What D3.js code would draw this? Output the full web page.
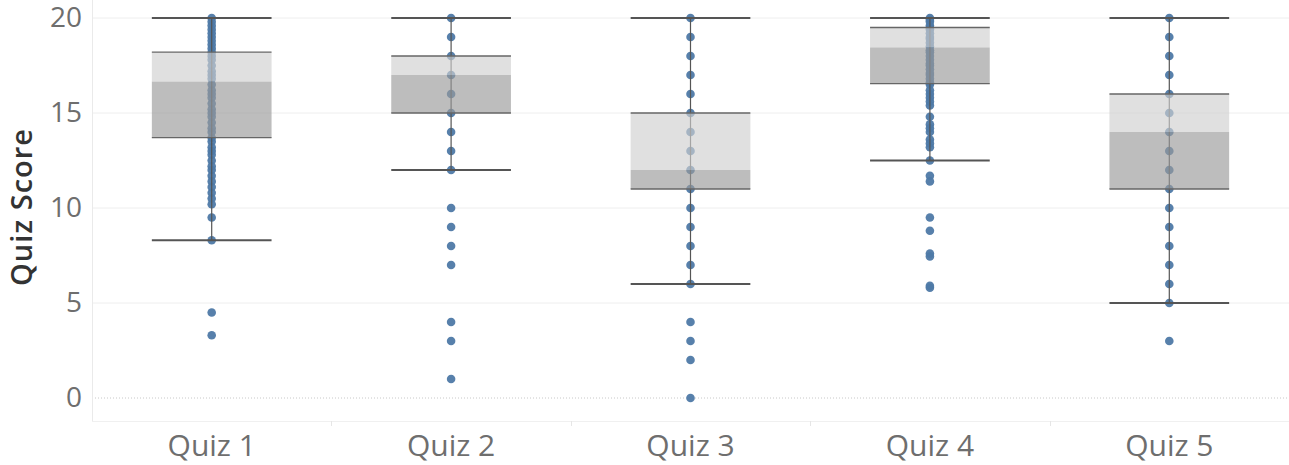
<!DOCTYPE html>
<html>
<head>
<meta charset="utf-8">
<script src="https://cdn.jsdelivr.net/npm/d3@7/dist/d3.min.js"></script>
<style>
  html, body { margin: 0; padding: 0; background: #fff; }
  svg { display: block; }
</style>
</head>
<body>
<svg id="chart" width="1289" height="465"></svg>
<script>
// Quiz categories and box-plot statistics
const quizzes = ["Quiz 1", "Quiz 2", "Quiz 3", "Quiz 4", "Quiz 5"];
const whiskerLow  = [8.3, 12, 6, 12.5, 5];
const lowerQuart  = [13.7, 15, 11, 16.55, 11];
const medians     = [16.65, 17, 12, 18.45, 14];
const upperQuart  = [18.2, 18, 15, 19.5, 16];
const whiskerHigh = [20, 20, 20, 20, 20];

// Individual student scores per quiz
const scoresQuiz1 = [20, 19.8, 19.6, 19.4, 19.2, 19, 18.8, 18.6, 18.4, 18.2, 18, 17.8, 17.5, 17.2, 17, 16.8,
  16.5, 16.2, 16, 15.8, 15.5, 15.2, 15, 14.8, 14.5, 14.2, 14, 13.7, 13.5, 13.2, 13, 12.8, 12.5, 12.2, 12,
  11.7, 11.4, 11.1, 10.8, 10.5, 10.2, 9.5, 8.3, 4.5, 3.3];
const scoresQuiz2 = [20, 19, 18, 17, 16, 15, 14, 13, 12, 10, 9, 8, 7, 4, 3, 1];
const scoresQuiz3 = [20, 19, 18, 17, 16, 15, 14, 13, 12, 11, 10, 9, 8, 7, 6, 4, 3, 2, 0];
const scoresQuiz4 = [20, 19.9, 19.8, 19.6, 19.5, 19.4, 19.2, 19, 18.9, 18.7, 18.5, 18.3, 18.2, 18, 17.8,
  17.6, 17.5, 17.3, 17.1, 17, 16.8, 16.6, 16.5, 16.2, 16, 15.8, 15.6, 15.4, 14.8, 14.4, 14.2, 14, 13.6,
  13.4, 13.2, 12.5, 11.7, 11.4, 9.5, 8.8, 7.6, 7.45, 5.9, 5.8];
const scoresQuiz5 = [20, 19, 18, 17, 16, 15, 14, 13, 12, 11, 10, 9, 8, 7, 6, 5, 3];
const scores = [scoresQuiz1, scoresQuiz2, scoresQuiz3, scoresQuiz4, scoresQuiz5];
const yTicks = [0, 5, 10, 15, 20];

const svg = d3.select("#chart");
const plotLeft = 92, plotRight = 1289, plotTop = 0, plotBottom = 421;

const x = d3.scaleBand().domain(quizzes).range([plotLeft, plotRight]);
const y = d3.scaleLinear().domain([0, 20]).range([398, 18]);

const font = "'Open Sans', 'Noto Sans', sans-serif";

// Gridlines
svg.append("g").selectAll("line")
  .data(yTicks.filter(d => d !== 0))
  .join("line")
  .attr("x1", plotLeft).attr("x2", plotRight)
  .attr("y1", d => y(d)).attr("y2", d => y(d))
  .attr("stroke", "#eeeeee").attr("stroke-width", 1);

// Zero line
svg.append("line")
  .attr("x1", plotLeft).attr("x2", plotRight)
  .attr("y1", y(0)).attr("y2", y(0))
  .attr("stroke", "#c8c8c8").attr("stroke-width", 1)
  .attr("stroke-dasharray", "1,2");

// Plot frame: left edge and bottom edge
svg.append("line")
  .attr("x1", plotLeft + 0.5).attr("x2", plotLeft + 0.5)
  .attr("y1", plotTop).attr("y2", plotBottom)
  .attr("stroke", "#eaeaea");
svg.append("line")
  .attr("x1", plotLeft).attr("x2", plotRight)
  .attr("y1", plotBottom + 0.5).attr("y2", plotBottom + 0.5)
  .attr("stroke", "#f0f0f0");

// Category separators below the plot
svg.append("g").selectAll("line")
  .data(quizzes.slice(1))
  .join("line")
  .attr("x1", d => Math.round(x(d)) + 0.5).attr("x2", d => Math.round(x(d)) + 0.5)
  .attr("y1", plotBottom).attr("y2", plotBottom + 5)
  .attr("stroke", "#e6e6e6");

// Y axis
const yAxis = d3.axisLeft(y).tickValues(yTicks).tickSize(0).tickPadding(0);
const yg = svg.append("g").attr("transform", `translate(${82},0)`).call(yAxis);
yg.select(".domain").remove();
yg.selectAll("text")
  .attr("font-family", font).attr("font-size", 28).attr("fill", "#6e6e6e")
  .attr("font-weight", 400);

// Y axis title
svg.append("text")
  .attr("transform", `translate(${32},${207}) rotate(-90)`)
  .attr("text-anchor", "middle")
  .attr("font-family", font).attr("font-size", 29).attr("font-weight", 600)
  .attr("letter-spacing", 1)
  .attr("fill", "#333")
  .text("Quiz Score");

// X axis
const xAxis = d3.axisBottom(x).tickSize(0).tickPadding(0);
const xg = svg.append("g").attr("transform", `translate(0,${plotBottom + 12})`).call(xAxis);
xg.select(".domain").remove();
xg.selectAll("text")
  .attr("font-family", font).attr("font-size", 30).attr("fill", "#6e6e6e")
  .attr("font-weight", 400)
  .attr("dy", "0.75em");

const cx = q => x(q) + x.bandwidth() / 2;
const halfBox = x.bandwidth() / 4;

// Score dots
quizzes.forEach((q, i) => {
  svg.append("g").selectAll("circle")
    .data(scores[i])
    .join("circle")
    .attr("cx", cx(q))
    .attr("cy", d => y(d))
    .attr("r", 4.3)
    .attr("fill", "#4e79a7")
    .attr("fill-opacity", 0.95);
});

// Whisker stems
svg.append("g").selectAll("line")
  .data(quizzes)
  .join("line")
  .attr("x1", q => cx(q)).attr("x2", q => cx(q))
  .attr("y1", (q, i) => y(whiskerLow[i])).attr("y2", (q, i) => y(whiskerHigh[i]))
  .attr("stroke", "#555").attr("stroke-width", 1.2);

// Box halves (upper: median to Q3, lower: Q1 to median)
svg.append("g").selectAll("rect")
  .data(quizzes)
  .join("rect")
  .attr("x", q => cx(q) - halfBox)
  .attr("width", halfBox * 2)
  .attr("y", (q, i) => y(upperQuart[i]))
  .attr("height", (q, i) => y(medians[i]) - y(upperQuart[i]))
  .attr("fill", "#d0d0d0").attr("fill-opacity", 0.65);
svg.append("g").selectAll("rect")
  .data(quizzes)
  .join("rect")
  .attr("x", q => cx(q) - halfBox)
  .attr("width", halfBox * 2)
  .attr("y", (q, i) => y(medians[i]))
  .attr("height", (q, i) => y(lowerQuart[i]) - y(medians[i]))
  .attr("fill", "#999999").attr("fill-opacity", 0.65);

// Box edges
[upperQuart, lowerQuart].forEach(arr => {
  svg.append("g").selectAll("line")
    .data(quizzes)
    .join("line")
    .attr("x1", q => cx(q) - halfBox).attr("x2", q => cx(q) + halfBox)
    .attr("y1", (q, i) => y(arr[i])).attr("y2", (q, i) => y(arr[i]))
    .attr("stroke", "#666").attr("stroke-width", 1.3);
});

// Whisker caps
[whiskerLow, whiskerHigh].forEach(arr => {
  svg.append("g").selectAll("line")
    .data(quizzes)
    .join("line")
    .attr("x1", q => cx(q) - halfBox).attr("x2", q => cx(q) + halfBox)
    .attr("y1", (q, i) => y(arr[i])).attr("y2", (q, i) => y(arr[i]))
    .attr("stroke", "#555").attr("stroke-width", 2);
});
</script>
</body>
</html>
